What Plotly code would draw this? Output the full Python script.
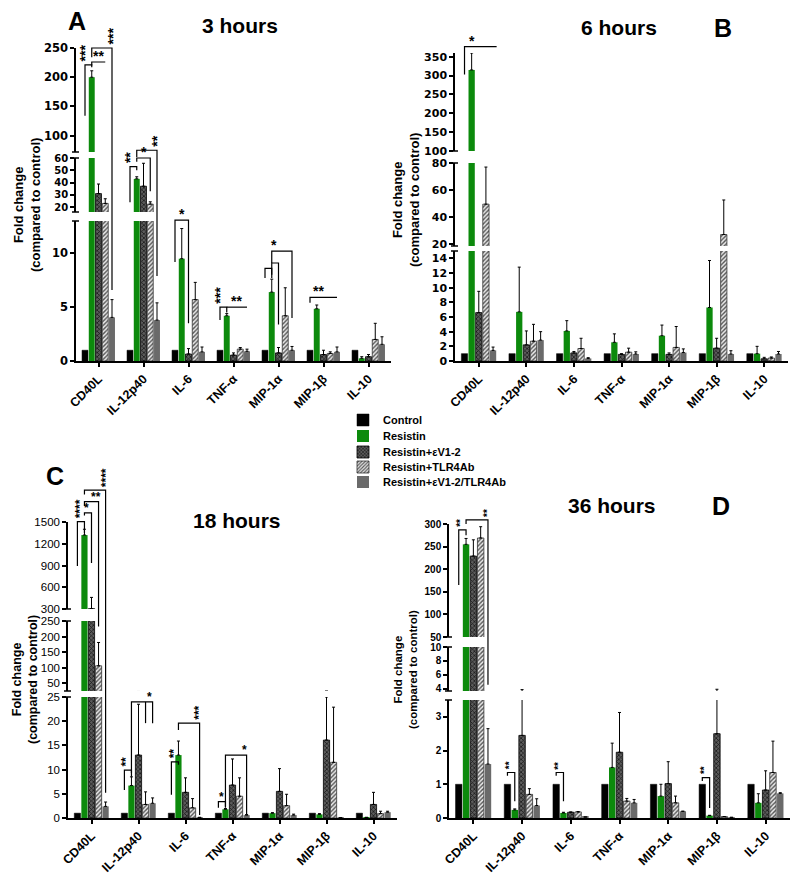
import plotly.graph_objects as go

# ---------------- data ----------------
categories = ["CD40L", "IL-12p40", "IL-6", "TNF-α", "MIP-1α", "MIP-1β", "IL-10"]
series_names = ["Control", "Resistin", "Resistin+εV1-2", "Resistin+TLR4Ab", "Resistin+εV1-2/TLR4Ab"]

# 3 hours (panel A)
h3_control = [1, 1, 1, 1, 1, 1, 1]
h3_resistin = [200, 43, 9.5, 4.2, 6.4, 4.85, 0.25]
h3_ev12 = [31, 37, 0.65, 0.55, 0.75, 0.6, 0.4]
h3_tlr4ab = [23, 22.4, 5.7, 1.1, 4.2, 0.7, 2.0]
h3_combo = [4.05, 3.8, 0.85, 0.9, 1.0, 0.85, 1.55]
h3_resistin_err = [11, 1.7, 2.8, 0.2, 1.2, 0.35, 0.15]
h3_ev12_err = [7.8, 18.7, 0.5, 0.2, 0.5, 0.4, 0.2]
h3_tlr4ab_err = [3.8, 1.9, 1.6, 0.15, 2.6, 0.15, 1.5]
h3_combo_err = [1.65, 1.6, 0.45, 0.2, 0.35, 0.45, 0.7]

# 6 hours (panel B)
h6_control = [1, 1, 1, 1, 1, 1, 1]
h6_resistin = [315, 6.7, 4.1, 2.55, 3.45, 7.3, 1.0]
h6_ev12 = [6.6, 2.2, 1.1, 0.9, 0.9, 1.75, 0.3]
h6_tlr4ab = [49.5, 2.7, 1.7, 1.2, 1.85, 27, 0.4]
h6_combo = [1.45, 2.85, 0.35, 0.95, 1.15, 0.95, 0.95]
h6_resistin_err = [45, 6.1, 1.4, 1.15, 1.45, 6.4, 1.0]
h6_ev12_err = [2.9, 1.9, 0.2, 0.1, 0.2, 1.35, 0.2]
h6_tlr4ab_err = [27.5, 2.3, 1.4, 0.55, 2.85, 25.6, 0.15]
h6_combo_err = [0.45, 1.15, 0.1, 0.3, 0.5, 0.45, 0.35]

# 18 hours (panel C)
h18_control = [1, 1, 1, 1, 1, 1, 1]
h18_resistin = [1320, 6.7, 13.0, 1.8, 1.0, 0.75, 0.1]
h18_ev12 = [305, 13.0, 5.3, 6.8, 5.5, 16.1, 2.8]
h18_tlr4ab = [106, 2.8, 2.1, 4.5, 2.55, 11.5, 0.9]
h18_combo = [2.4, 3.05, 0.1, 0.6, 0.6, 0.05, 1.2]
h18_resistin_err = [80, 1.8, 2.9, 0.15, 0.1, 0.15, 0.05]
h18_ev12_err = [155, 10.5, 3.0, 5.4, 4.7, 8.9, 2.5]
h18_tlr4ab_err = [75, 2.6, 1.9, 3.8, 2.35, 11.4, 0.5]
h18_combo_err = [0.9, 1.1, 0.05, 0.1, 0.2, 0.03, 0.2]

# 36 hours (panel D)
h36_control = [1, 1, 1, 1, 1, 1, 1]
h36_resistin = [255, 0.24, 0.15, 1.5, 0.65, 0.07, 0.45]
h36_ev12 = [229, 2.45, 0.17, 1.95, 1.02, 2.5, 0.83]
h36_tlr4ab = [269, 0.7, 0.18, 0.5, 0.45, 0.04, 1.35]
h36_combo = [1.6, 0.37, 0.03, 0.45, 0.2, 0.02, 0.73]
h36_resistin_err = [13, 0.03, 0.02, 0.72, 0.35, 0.01, 0.27]
h36_ev12_err = [36, 1.45, 0.01, 1.18, 0.65, 1.45, 0.57]
h36_tlr4ab_err = [25, 0.17, 0.01, 0.08, 0.2, 0.0, 0.93]
h36_combo_err = [1.05, 0.2, 0.0, 0.1, 0.0, 0.0, 0.02]

# y tick values per axis segment (bottom, middle, top)
h3_ticks = [[0, 5, 10], [20, 30, 40, 50, 60], [100, 150, 200, 250]]
h6_ticks = [[0, 2, 4, 6, 8, 10, 12, 14], [20, 40, 60, 80], [100, 150, 200, 250, 300, 350]]
h18_ticks = [[0, 5, 10, 15, 20, 25], [50, 100, 150, 200, 250], [300, 600, 900, 1200, 1500]]
h36_ticks = [[0, 1, 2, 3], [4, 6, 8, 10], [50, 100, 150, 200, 250, 300]]

# ---------------- layout helpers ----------------
# the page body keeps its default 8px margin, so the figure is 8px smaller
# and every screen-pixel position below is shifted by that offset
OFF = 8
W, H = 800 - OFF, 876 - OFF
def xp(px): return (px - OFF) / W
def yp(py): return 1 - (py - OFF) / H

BOLD = "Liberation Sans, Arial, sans-serif"

def dv(size):
    return dict(family="DejaVu Sans", size=size, weight="bold", color="black")

panels = [
    dict(title="3 hours", letter="A", title_xy=(240, 26), letter_xy=(77, 21),
         xpx=(76, 391), segs=[(0, 13, 361, 221), (16, 60, 212, 158), (72, 250, 152, 48)],
         ticks=h3_ticks, tickfonts=[dv(11.5), dv(10), dv(11.5)],
         ytitle_x=27, ytitle_y=205, ytitle_size=13,
         data=[h3_control, h3_resistin, h3_ev12, h3_tlr4ab, h3_combo],
         err=[None, h3_resistin_err, h3_ev12_err, h3_tlr4ab_err, h3_combo_err]),
    dict(title="6 hours", letter="B", title_xy=(619, 27), letter_xy=(723, 28),
         xpx=(455, 788), segs=[(0, 15, 361, 251), (18.5, 80, 246, 163), (100, 360, 151, 53)],
         ticks=h6_ticks, tickfonts=[dv(11)] * 3,
         ytitle_x=406, ytitle_y=200, ytitle_size=13,
         data=[h6_control, h6_resistin, h6_ev12, h6_tlr4ab, h6_combo],
         err=[None, h6_resistin_err, h6_ev12_err, h6_tlr4ab_err, h6_combo_err]),
    dict(title="18 hours", letter="C", title_xy=(237, 520), letter_xy=(55, 476),
         xpx=(68, 397), segs=[(0, 25, 818, 697), (25, 250, 691, 621), (300, 1500, 609, 522)],
         ticks=h18_ticks, tickfonts=[dict(family=BOLD, size=11.5, color="black")] * 3,
         ytitle_x=25, ytitle_y=680, ytitle_size=12.5,
         data=[h18_control, h18_resistin, h18_ev12, h18_tlr4ab, h18_combo],
         err=[None, h18_resistin_err, h18_ev12_err, h18_tlr4ab_err, h18_combo_err]),
    dict(title="36 hours", letter="D", title_xy=(612, 505), letter_xy=(721, 506),
         xpx=(449, 790), segs=[(0, 3.5, 818, 700), (3.7, 10, 691, 647), (50, 300, 637, 524)],
         ticks=h36_ticks, tickfonts=[dict(family=BOLD, size=10, weight="bold", color="black")] * 3,
         ytitle_x=405, ytitle_y=670, ytitle_size=11.5,
         data=[h36_control, h36_resistin, h36_ev12, h36_tlr4ab, h36_combo],
         err=[None, h36_resistin_err, h36_ev12_err, h36_tlr4ab_err, h36_combo_err]),
]

styles = [
    dict(color="#000000", line=dict(color="#000000", width=0.5)),
    dict(color="#0c8a0c", line=dict(color="#0c8a0c", width=0)),
    dict(color="#555555", pattern=dict(shape="x", fgcolor="#111111", bgcolor="#5c5c5c", size=3, solidity=0.4),
         line=dict(color="#000000", width=0.8)),
    dict(color="#e4e4e4", pattern=dict(shape="/", fgcolor="#555555", bgcolor="#e8e8e8", size=3, solidity=0.45),
         line=dict(color="#333333", width=0.8)),
    dict(color="#6a6a6a", line=dict(color="#6a6a6a", width=0)),
]

fig = go.Figure()
layout = dict(template="none", width=W, height=H, autosize=False,
              margin=dict(l=0, r=0, t=0, b=0, pad=0),
              paper_bgcolor="white", plot_bgcolor="rgba(0,0,0,0)",
              barmode="group", bargap=0.25, bargroupgap=0.12,
              showlegend=True, font=dict(family=BOLD, color="black"))
annotations = []
shapes = []

legend_y = [420, 436, 452, 467, 482]

for p, pan in enumerate(panels):
    x0, x1 = pan["xpx"]
    for s, (lo, hi, pl, ph) in enumerate(pan["segs"]):
        n = p * 3 + s + 1
        xa = "xaxis" if n == 1 else f"xaxis{n}"
        ya = "yaxis" if n == 1 else f"yaxis{n}"
        xr = "x" if n == 1 else f"x{n}"
        yr = "y" if n == 1 else f"y{n}"
        xax = dict(domain=[xp(x0), xp(x1)], anchor=yr, type="category",
                   categoryorder="array", categoryarray=categories, automargin=False,
                   range=[-0.5, 6.5], showgrid=False, zeroline=False)
        if s == 0:
            xax.update(showline=True, linecolor="black", linewidth=1.5,
                       ticks="outside", ticklen=4, tickwidth=1.5, tickcolor="black",
                       tickangle=-45,
                       tickfont=dict(family=BOLD, size=12.5, weight="bold", color="black"))
        else:
            xax.update(visible=False)
        layout[xa] = xax
        layout[ya] = dict(domain=[yp(pl), yp(ph)], anchor=xr, range=[lo, hi], automargin=False,
                          showgrid=False, zeroline=False, showline=True,
                          linecolor="black", linewidth=1.5, ticks="outside",
                          ticklen=4, tickwidth=1.5, tickcolor="black",
                          tickvals=pan["ticks"][s], tickfont=pan["tickfonts"][s])
        # small serif marking each end of a broken axis segment
        ends = []
        if s > 0:
            ends.append(pl)
        if s < len(pan["segs"]) - 1:
            ends.append(ph)
        for e in ends:
            shapes.append(dict(type="line", xref="paper", yref="paper",
                               x0=xp(x0 - 4), x1=xp(x0 + 3), y0=yp(e), y1=yp(e),
                               line=dict(color="black", width=1.5)))
        for i in range(5):
            st = styles[i]
            marker = dict(color=st["color"], line=st["line"])
            if "pattern" in st:
                marker["pattern"] = st["pattern"]
            err = pan["err"][i]
            ey = None
            if err is not None:
                ey = dict(type="data", array=err, arrayminus=[0] * len(err), symmetric=False,
                          visible=True, color="black", thickness=1, width=1.5)
            show = (p == 0 and s == 0)
            tr = go.Bar(x=categories, y=pan["data"][i], name=series_names[i],
                        marker=marker, error_y=ey, xaxis=xr, yaxis=yr,
                        showlegend=show, hoverinfo="skip")
            if show:
                tr.legend = "legend" if i == 0 else f"legend{i+1}"
            fig.add_trace(tr)

    # titles
    tx, ty = pan["title_xy"]
    annotations.append(dict(text=pan["title"], x=xp(tx), y=yp(ty), xref="paper", yref="paper",
                            showarrow=False, xanchor="center", yanchor="middle",
                            font=dict(family=BOLD, size=21, weight="bold", color="black")))
    lx, ly = pan["letter_xy"]
    annotations.append(dict(text=pan["letter"], x=xp(lx), y=yp(ly), xref="paper", yref="paper",
                            showarrow=False, xanchor="center", yanchor="middle",
                            font=dict(family=BOLD, size=25, weight="bold", color="black")))
    annotations.append(dict(text="Fold change<br>(compared to control)", x=xp(pan["ytitle_x"]),
                            y=yp(pan["ytitle_y"]), xref="paper", yref="paper", textangle=-90,
                            showarrow=False, xanchor="center", yanchor="middle",
                            font=dict(family=BOLD, size=pan["ytitle_size"], weight="bold",
                                      color="black")))

# legends, one per entry so the rows sit like the original
for i in range(5):
    key = "legend" if i == 0 else f"legend{i+1}"
    layout[key] = dict(x=xp(343), y=yp(legend_y[i]), xanchor="left", yanchor="middle",
                       bgcolor="rgba(0,0,0,0)", borderwidth=0, itemwidth=30,
                       font=dict(family=BOLD, size=11, weight="bold", color="black"))

# ---------------- significance brackets ----------------
def val_to_py(pan, v):
    segs = pan["segs"]
    for (lo, hi, pl, ph) in segs:
        if lo <= v <= hi:
            return pl + (v - lo) / (hi - lo) * (ph - pl)
    lo, hi, pl, ph = segs[-1]
    if v > hi:
        return pl + (v - lo) / (hi - lo) * (ph - pl)
    for k in range(len(segs) - 1):
        a, b = segs[k], segs[k + 1]
        if a[1] < v < b[0]:
            t = (v - a[1]) / (b[0] - a[1])
            return a[3] + t * (b[2] - a[3])
    return segs[0][2]

def bar_px(pan, cat, i):
    x0, x1 = pan["xpx"]
    return x0 + (cat + 0.5 - 0.3 + 0.15 * i) * (x1 - x0) / 7

# (cat, left bar, right bar, top, left bottom, right bottom, text, orientation, text bar pos, extra drops)
brackets = [
    [  # A
        (0, 0, 1, 221, 134, 217, "***", "v", 0, []),
        (0, 1, 3, 226, 220, None, "**", "h", 2, []),
        (0, 1, 4, 250, 234, 6.6, "***", "v", 4, []),
        (1, 0, 1, 53, 24, 50, "**", "v", 0, []),
        (1, 1, 3, 60, 57, 33, "*", "h", 2, []),
        (1, 1, 4, 75, 62, 7.9, "**", "v", 4, []),
        (2, 0, 2, 13.3, 9.2, 3.5, "*", "h", 1, []),
        (3, 0, 1, 5.0, 3.8, 4.5, "***", "v", 0, []),
        (3, 1, 4, 5.0, None, None, "**", "h", 2.5, []),
        (4, 0, 1, 8.6, 7.7, 7.7, "", "h", 0, []),
        (4, 1, 2, 9.1, 8.0, 3.4, "", "h", 0, []),
        (4, 1, 4, 10.2, 9.1, 4.0, "*", "h", 1.3, []),
        (5, 0, 4, 5.9, 5.4, None, "**", "h", 1.2, []),
    ],
    [  # B
        (0, 0, 4.5, 377, 303, None, "*", "h", 1, []),
    ],
    [  # C
        (0, 0, 1, 1505, 893, 1350, "****", "v", 0.4, []),
        (0, 1, 2, 1625, 1590, 935, "*", "h", 1.3, []),
        (0, 1, 3, 1780, 1720, 232, "**", "h", 2.7, []),
        (0, 1, 4, 1940, 1880, 5.2, "****", "v", 4, []),
        (1, 0, 1, 9.9, 5.8, 9.3, "**", "v", 0.3, []),
        (1, 1, 4, 24.0, 8.5, 19.6, "*", "h", 3.5, [(3, 19.6)]),
        (2, 0, 1, 11.6, 4.8, 11.0, "**", "v", 0.3, []),
        (2, 1, 4, 19.6, 18.2, 0.6, "***", "v", 4, []),
        (3, 0, 1, 3.4, 2.1, 2.1, "*", "h", 0.5, []),
        (3, 1, 4, 13.0, 2.3, 0.8, "*", "h", 3.7, []),
    ],
    [  # D
        (0, 0, 1, 287, 165, 275, "**", "v", 0.3, []),
        (0, 1, 4, 309, 300, 4.6, "**", "v", 4, []),
        (1, 0, 1, 1.35, 1.25, 0.5, "**", "v", 0.3, []),
        (2, 0, 1, 1.35, 1.25, 0.5, "**", "v", 0.3, []),
        (5, 0, 1, 1.2, 1.1, 0.3, "**", "v", 0.3, []),
    ],
]
star_sizes = [14, 14, 12, 10]

for p, pan in enumerate(panels):
    for (cat, il, ir, top, lb, rb, txt, ori, tpos, drops) in brackets[p]:
        xl = xp(bar_px(pan, cat, il)); xr_ = xp(bar_px(pan, cat, ir))
        yt = yp(val_to_py(pan, top))
        path = ""
        if lb is not None:
            path += f"M{xl},{yp(val_to_py(pan, lb))} L{xl},{yt} "
        else:
            path += f"M{xl},{yt} "
        path += f"L{xr_},{yt}"
        if rb is not None:
            path += f" L{xr_},{yp(val_to_py(pan, rb))}"
        shapes.append(dict(type="path", path=path, xref="paper", yref="paper",
                           line=dict(color="black", width=1.2)))
        for (bi, yb) in drops:
            xd = xp(bar_px(pan, cat, bi))
            shapes.append(dict(type="line", x0=xd, x1=xd, y0=yt, y1=yp(val_to_py(pan, yb)),
                               xref="paper", yref="paper", line=dict(color="black", width=1.2)))
        if txt:
            tx = xp(bar_px(pan, cat, tpos))
            if ori == "v":
                annotations.append(dict(text=txt, x=tx, y=yt, xref="paper", yref="paper",
                                        textangle=-90, showarrow=False, xanchor="center",
                                        yanchor="bottom", yshift=1,
                                        font=dict(family=BOLD, size=star_sizes[p], weight="bold",
                                                  color="black")))
            else:
                annotations.append(dict(text=txt, x=tx, y=yt, xref="paper", yref="paper",
                                        showarrow=False, xanchor="center", yanchor="bottom",
                                        yshift=-4,
                                        font=dict(family=BOLD, size=star_sizes[p], weight="bold",
                                                  color="black")))

layout["annotations"] = annotations
layout["shapes"] = shapes
fig.update_layout(**layout)
fig.write_html("out.html")
